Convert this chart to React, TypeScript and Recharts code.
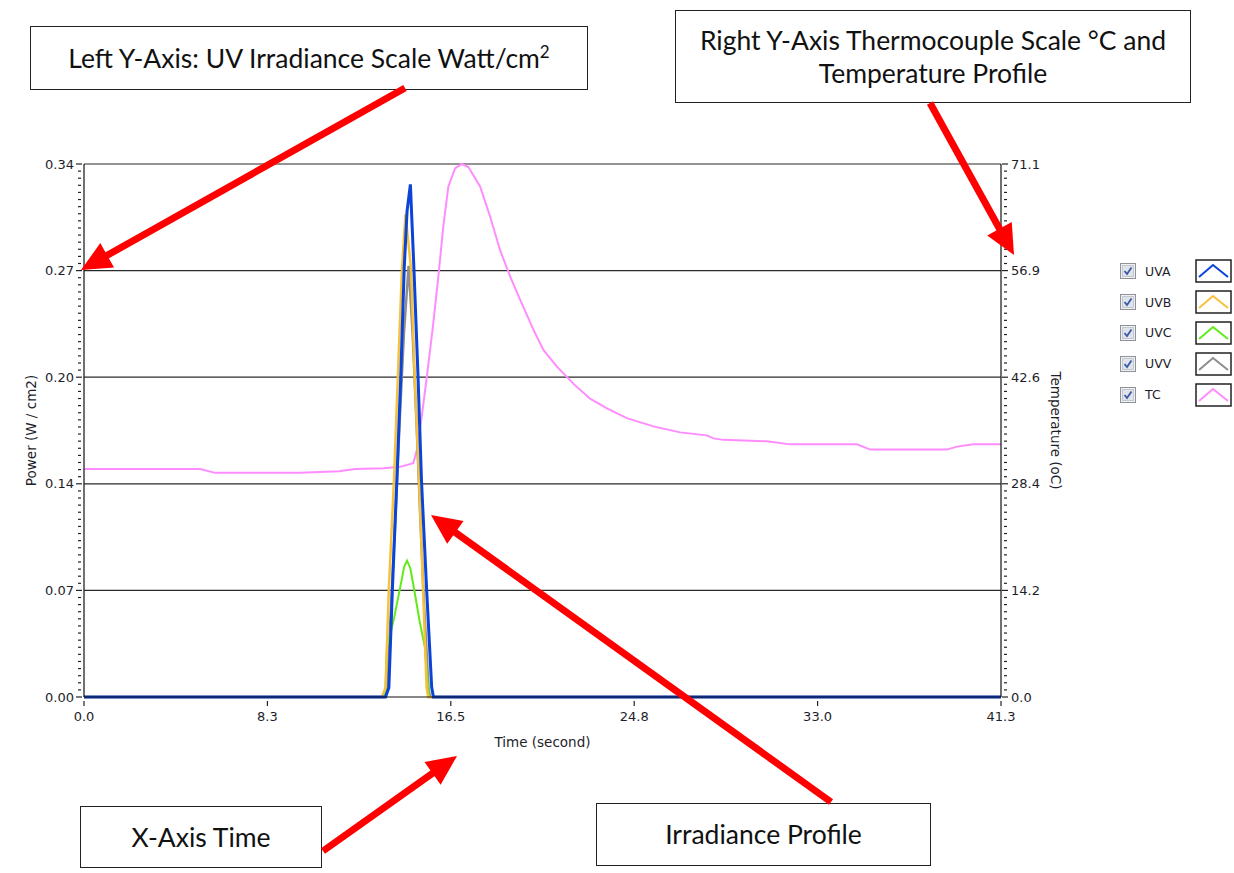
import React from 'react';
import { LineChart, Line, XAxis, YAxis, ReferenceLine, Label } from 'recharts';

// x axis (seconds)
const xTicks = [0, 8.26, 16.52, 24.78, 33.04, 41.3];
const xLabels = ['0.0', '8.3', '16.5', '24.8', '33.0', '41.3'];
// left axis (W / cm2) and right axis (oC)
const powerLabels = ['0.00', '0.07', '0.14', '0.20', '0.27', '0.34'];
const tempLabels = ['0.0', '14.2', '28.4', '42.6', '56.9', '71.1'];
const POWER_MAX = 0.34;
const TEMP_MAX = 71.1;
const MINOR = 15; // minor divisions per major

// irradiance profiles
const uvaTime = [0, 13.58, 13.73, 13.89, 14.09, 14.27, 14.42, 14.55, 14.7, 14.86, 15.04, 15.2, 15.43, 15.66, 15.74, 41.3];
const uvaPower = [0, 0, 0.006, 0.069, 0.138, 0.206, 0.273, 0.31, 0.327, 0.273, 0.206, 0.138, 0.069, 0.006, 0, 0];

const uvbTime = [0, 13.42, 13.58, 13.73, 13.96, 14.14, 14.32, 14.48, 14.73, 14.89, 15.09, 15.27, 15.43, 15.5, 41.3];
const uvbPower = [0, 0, 0.006, 0.069, 0.138, 0.206, 0.273, 0.308, 0.273, 0.206, 0.138, 0.069, 0.006, 0, 0];

const uvcTime = [0, 13.56, 13.65, 13.96, 14.27, 14.42, 14.55, 14.7, 14.89, 15.12, 15.35, 15.5, 15.55, 41.3];
const uvcPower = [0, 0, 0.032, 0.05, 0.072, 0.083, 0.087, 0.082, 0.067, 0.048, 0.032, 0.005, 0, 0];

const uvvTime = [0, 13.49, 13.65, 13.83, 14.03, 14.21, 14.41, 14.62, 14.8, 14.98, 15.14, 15.32, 15.52, 15.59, 41.3];
const uvvPower = [0, 0, 0.005, 0.058, 0.116, 0.173, 0.232, 0.275, 0.232, 0.173, 0.116, 0.058, 0.005, 0, 0];

// thermocouple profile
const tcTime = [0, 5.23, 5.9, 9.73, 11.5, 12.2, 13.5, 14.23, 14.83, 14.99, 15.21, 15.44, 15.73, 15.96, 16.18, 16.41, 16.71, 17.01, 17.31, 17.84, 18.29, 18.74, 19.19, 19.64, 20.24, 20.69, 21.29, 22.04, 22.79, 23.55, 24.45, 25.64, 26.85, 28.05, 28.35, 28.8, 30.75, 31.8, 34.81, 35.41, 38.86, 39.32, 40.06, 41.3];
const tcTemp = [30.4, 30.4, 29.9, 29.9, 30.1, 30.4, 30.5, 30.7, 31.2, 32.9, 37.4, 42.7, 49.8, 56.1, 62.7, 68.1, 70.5, 71.1, 70.7, 68.1, 64.1, 59.6, 56.1, 53.0, 49.0, 46.3, 44.1, 41.8, 39.8, 38.5, 37.2, 36.1, 35.3, 34.9, 34.5, 34.3, 34.1, 33.7, 33.7, 33.0, 33.0, 33.4, 33.7, 33.7];

const legendNames = ['UVA', 'UVB', 'UVC', 'UVV', 'TC'];
const legendColors = ['#0c44d8', '#f7c13c', '#62ea1a', '#8e8e8e', '#ff8cff'];

const toRows = (ts: number[], vs: number[]) => ts.map((t, i) => ({ t, v: vs[i] }));

const powerTicks = Array.from({ length: 5 * MINOR + 1 }, (_, i) => Number(((i * POWER_MAX) / (5 * MINOR)).toFixed(6)));
const tempTicks = Array.from({ length: 5 * MINOR + 1 }, (_, i) => Number(((i * TEMP_MAX) / (5 * MINOR)).toFixed(6)));

const tickFont = { fontFamily: '"DejaVu Sans", sans-serif', fontSize: 13, fill: '#1e1e2a' };
const titleFont = { fontFamily: '"DejaVu Sans", sans-serif', fontSize: 13.5, fill: '#1e1e2a' };
const noteFont = '"Lato", "Open Sans", sans-serif';

const LeftTick = (props: any) => {
  const { x, y, index } = props;
  const major = index % MINOR === 0;
  const ax = x + 10;
  return (
    <g>
      <line x1={ax - (major ? 8 : 6)} x2={ax - (major ? 2 : 3)} y1={y} y2={y} stroke="#222" strokeWidth={1.2} />
      {major && (
        <text x={x} y={y} dy={4.5} textAnchor="end" {...tickFont}>
          {powerLabels[index / MINOR]}
        </text>
      )}
    </g>
  );
};

const RightTick = (props: any) => {
  const { x, y, index } = props;
  const major = index % MINOR === 0;
  const ax = x - 10;
  return (
    <g>
      <line x1={ax + (major ? 1 : 3)} x2={ax + (major ? 7 : 6)} y1={y} y2={y} stroke="#222" strokeWidth={1.2} />
      {major && (
        <text x={x} y={y} dy={4.5} textAnchor="start" {...tickFont}>
          {tempLabels[index / MINOR]}
        </text>
      )}
    </g>
  );
};

const BottomTick = (props: any) => {
  const { x, y, index } = props;
  return (
    <g>
      <line x1={x} x2={x} y1={y - 9} y2={y - 4} stroke="#222" strokeWidth={1.2} />
      <text x={x} y={y} dy={11} textAnchor="middle" {...tickFont}>
        {xLabels[index]}
      </text>
    </g>
  );
};

const Arrow = ({ x1, y1, x2, y2 }: { x1: number; y1: number; x2: number; y2: number }) => {
  const dx = x2 - x1;
  const dy = y2 - y1;
  const len = Math.sqrt(dx * dx + dy * dy);
  const ux = dx / len;
  const uy = dy / len;
  const hl = 30;
  const hw = 14;
  const bx = x2 - ux * hl;
  const by = y2 - uy * hl;
  const pts = `${x2},${y2} ${bx - uy * hw},${by + ux * hw} ${bx + uy * hw},${by - ux * hw}`;
  return (
    <g>
      <line x1={x1} y1={y1} x2={bx + ux * 2} y2={by + uy * 2} stroke="#ff0000" strokeWidth={7} />
      <polygon points={pts} fill="#ff0000" />
    </g>
  );
};

const boxStyle = (left: number, top: number, width: number, height: number): React.CSSProperties => ({
  position: 'absolute',
  left,
  top,
  width,
  height,
  boxSizing: 'border-box',
  border: '1.5px solid #222',
  background: '#fff',
  display: 'flex',
  flexDirection: 'column',
  alignItems: 'center',
  justifyContent: 'center',
  fontFamily: noteFont,
  fontSize: 26.5,
  color: '#111',
  lineHeight: '33px',
  textAlign: 'center',
  whiteSpace: 'nowrap',
});

const CheckBox = () => (
  <svg width={16} height={16} style={{ display: 'block' }}>
    <rect x={0.5} y={0.5} width={15} height={15} fill="#eef0f3" stroke="#8f9296" />
    <rect x={2.5} y={2.5} width={11} height={11} fill="#dfe3ea" stroke="#c4c8ce" />
    <polyline points="4.5,8 7,11 11.5,4.5" fill="none" stroke="#3a5aa6" strokeWidth={1.8} />
  </svg>
);

const Legend = () => (
  <div style={{ position: 'absolute', left: 1120, top: 256 }}>
    {legendNames.map((n, i) => (
      <div key={n} style={{ display: 'flex', alignItems: 'center', height: 30.8 }}>
        <CheckBox />
        <span style={{ marginLeft: 9, width: 50, fontFamily: '"DejaVu Sans", sans-serif', fontSize: 12.5, color: '#1e1e2a' }}>{n}</span>
        <svg width={37} height={24} style={{ display: 'block' }}>
          <rect x={1} y={1} width={35} height={22} fill="#fff" stroke="#222" strokeWidth={1.5} />
          <polyline points="4,18 18,6 33,18" fill="none" stroke={legendColors[i]} strokeWidth={2} />
        </svg>
      </div>
    ))}
  </div>
);

export default function App() {
  return (
    <div style={{ position: 'absolute', left: 0, top: 0, width: 1234, height: 873, background: '#fff', overflow: 'hidden' }}>
      <LineChart width={1234} height={873} margin={{ top: 164, right: 173, bottom: 146, left: 24 }}>
        <XAxis
          dataKey="t"
          type="number"
          domain={[0, 41.3]}
          ticks={xTicks}
          interval={0}
          tick={<BottomTick />}
          tickLine={false}
          tickSize={9}
          tickMargin={4}
          height={30}
          axisLine={{ stroke: '#111', strokeWidth: 1.2 }}
        >
          <Label
            content={(p: any) => (
              <text x={p.viewBox.x + p.viewBox.width / 2} y={p.viewBox.y + 50} textAnchor="middle" {...titleFont}>
                Time (second)
              </text>
            )}
          />
        </XAxis>
        <YAxis
          yAxisId="p"
          orientation="left"
          type="number"
          domain={[0, POWER_MAX]}
          ticks={powerTicks}
          interval={0}
          tick={<LeftTick />}
          tickLine={false}
          tickSize={7}
          tickMargin={3}
          width={60}
          axisLine={{ stroke: '#111', strokeWidth: 1.2 }}
        >
          <Label
            content={(p: any) => {
              const cx = p.viewBox.x + 12;
              const cy = p.viewBox.y + p.viewBox.height / 2;
              return (
                <text x={cx} y={cy} textAnchor="middle" transform={`rotate(-90 ${cx} ${cy})`} {...titleFont}>
                  Power (W / cm2)
                </text>
              );
            }}
          />
        </YAxis>
        <YAxis
          yAxisId="t"
          orientation="right"
          type="number"
          domain={[0, TEMP_MAX]}
          ticks={tempTicks}
          interval={0}
          tick={<RightTick />}
          tickLine={false}
          tickSize={7}
          tickMargin={3}
          width={60}
          axisLine={{ stroke: '#111', strokeWidth: 1.2 }}
        >
          <Label
            content={(p: any) => {
              const cx = p.viewBox.x + 50;
              const cy = p.viewBox.y + p.viewBox.height / 2;
              return (
                <text x={cx} y={cy} textAnchor="middle" transform={`rotate(90 ${cx} ${cy})`} {...titleFont}>
                  Temperature (oC)
                </text>
              );
            }}
          />
        </YAxis>
        {powerTicks
          .filter((_, i) => i % MINOR === 0 && i > 0)
          .map((v) => (
            <ReferenceLine key={v} yAxisId="p" y={v} stroke="#2a2a2a" strokeWidth={1.2} />
          ))}
        <Line data={toRows(tcTime, tcTemp)} yAxisId="t" dataKey="v" type="linear" stroke={legendColors[4]} strokeWidth={2} dot={false} isAnimationActive={false} />
        <Line data={toRows(uvvTime, uvvPower)} yAxisId="p" dataKey="v" type="linear" stroke={legendColors[3]} strokeWidth={2.5} dot={false} isAnimationActive={false} />
        <Line data={toRows(uvcTime, uvcPower)} yAxisId="p" dataKey="v" type="linear" stroke={legendColors[2]} strokeWidth={2} dot={false} isAnimationActive={false} />
        <Line data={toRows(uvbTime, uvbPower)} yAxisId="p" dataKey="v" type="linear" stroke={legendColors[1]} strokeWidth={2.5} dot={false} isAnimationActive={false} />
        <Line data={toRows(uvaTime, uvaPower)} yAxisId="p" dataKey="v" type="linear" stroke={legendColors[0]} strokeWidth={3} dot={false} isAnimationActive={false} />
      </LineChart>

      <Legend />

      <div style={boxStyle(30, 26, 558, 64)}>
        <div>
          Left Y-Axis: UV Irradiance Scale Watt/cm<sup style={{ fontSize: 17, lineHeight: 0 }}>2</sup>
        </div>
      </div>
      <div style={boxStyle(675, 10, 516, 93)}>
        <div>Right Y-Axis Thermocouple Scale °C and</div>
        <div>Temperature Profile</div>
      </div>
      <div style={boxStyle(80, 806, 242, 62)}>
        <div>X-Axis Time</div>
      </div>
      <div style={boxStyle(596, 803, 335, 63)}>
        <div>Irradiance Profile</div>
      </div>

      <svg width={1234} height={873} style={{ position: 'absolute', left: 0, top: 0, pointerEvents: 'none' }}>
        <Arrow x1={405} y1={88} x2={81} y2={270} />
        <Arrow x1={930} y1={103} x2={1014} y2={255} />
        <Arrow x1={323} y1={851} x2={457} y2={756} />
        <Arrow x1={831} y1={802} x2={431} y2={515} />
      </svg>
    </div>
  );
}
